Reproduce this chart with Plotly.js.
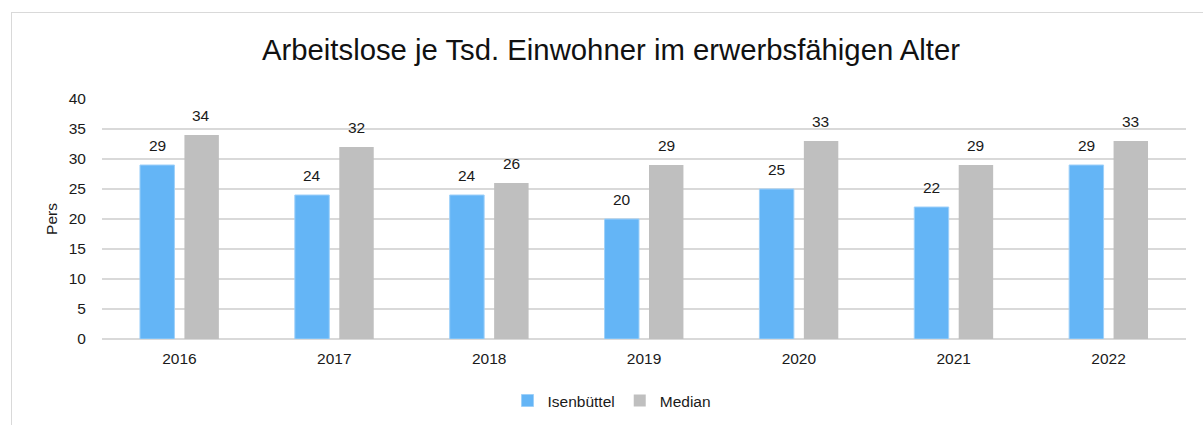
<!DOCTYPE html>
<html>
<head>
<meta charset="utf-8">
<script src="https://cdn.plot.ly/plotly-3.0.1.min.js"></script>
<style>
  html, body { margin: 0; padding: 0; background: #fff; }
  #wrap { position: relative; width: 1203px; height: 425px; overflow: hidden; }
  #frame { position: absolute; left: 11px; top: 12px; width: 1300px; height: 500px;
           border-top: 1px solid #D9D9D9; border-left: 1px solid #D9D9D9; pointer-events: none; }
  #chart { position: absolute; left: 0; top: 0; width: 1203px; height: 425px; }
</style>
</head>
<body>
<div id="wrap">
  <div id="chart"></div>
  <div id="frame"></div>
</div>
<script>
const years = ['2016', '2017', '2018', '2019', '2020', '2021', '2022'];
const isenbuettel = [29, 24, 24, 20, 25, 22, 29];
const median = [34, 32, 26, 29, 33, 29, 33];
const seriesNames = ['Isenbüttel', 'Median'];
const titleText = 'Arbeitslose je Tsd. Einwohner im erwerbsfähigen Alter';
const yTitle = 'Pers';

const FONT = 'Liberation Sans, Arial, sans-serif';
const FS = 15.5;

const traces = [
  { type: 'bar', name: seriesNames[0], x: years, y: isenbuettel,
    marker: { color: '#64B5F6', line: { color: '#9ED0F9', width: 1 } }, hoverinfo: 'y' },
  { type: 'bar', name: seriesNames[1], x: years, y: median,
    marker: { color: '#BFBFBF', line: { color: '#BFBFBF', width: 0 } }, hoverinfo: 'y' }
];

const annotations = [];
[isenbuettel, median].forEach((arr, si) => {
  arr.forEach((v, i) => {
    annotations.push({
      x: i, y: v, xref: 'x', yref: 'y', text: String(v), showarrow: false,
      xshift: si === 0 ? -22 : 22, yshift: 20, yanchor: 'middle',
      font: { family: FONT, size: FS, color: '#1a1a1a' }
    });
  });
});

const layout = {
  width: 1203, height: 425,
  paper_bgcolor: 'rgba(0,0,0,0)', plot_bgcolor: 'rgba(0,0,0,0)',
  margin: { l: 102, r: 17, t: 99, b: 86, autoexpand: false },
  font: { family: FONT, size: FS, color: '#1a1a1a' },
  title: { text: titleText, font: { family: FONT, size: 29.3, color: '#111' },
           x: 611 / 1203, xanchor: 'center', xref: 'container',
           y: 1 - 50 / 425, yanchor: 'middle', yref: 'container' },
  barmode: 'group', bargap: 0.426, bargroupgap: 0.225,
  xaxis: { type: 'category', range: [-0.5, years.length - 0.5], autorange: false,
           showgrid: false, showline: false, zeroline: false,
           ticks: 'outside', ticklen: 5, tickcolor: 'rgba(0,0,0,0)',
           tickfont: { family: FONT, size: FS, color: '#1a1a1a' }, fixedrange: true },
  yaxis: { range: [0, 40], dtick: 5, tick0: 0, showgrid: true, gridcolor: '#D9D9D9', gridwidth: 1.5,
           zeroline: true, zerolinecolor: '#D9D9D9', zerolinewidth: 2, showline: false,
           ticks: 'outside', ticklen: 12, tickcolor: 'rgba(0,0,0,0)',
           tickfont: { family: FONT, size: FS, color: '#1a1a1a' },
           title: { text: yTitle, font: { family: FONT, size: FS, color: '#1a1a1a' }, standoff: 7 },
           fixedrange: true },
  legend: { orientation: 'h', x: 0.4705, xanchor: 'center', y: -0.258, yanchor: 'middle',
            font: { family: FONT, size: FS, color: '#1a1a1a' }, itemwidth: 30, traceorder: 'normal' },
  annotations: annotations,
  showlegend: true
};

Plotly.newPlot('chart', traces, layout, { displayModeBar: false, staticPlot: true });
</script>
</body>
</html>
